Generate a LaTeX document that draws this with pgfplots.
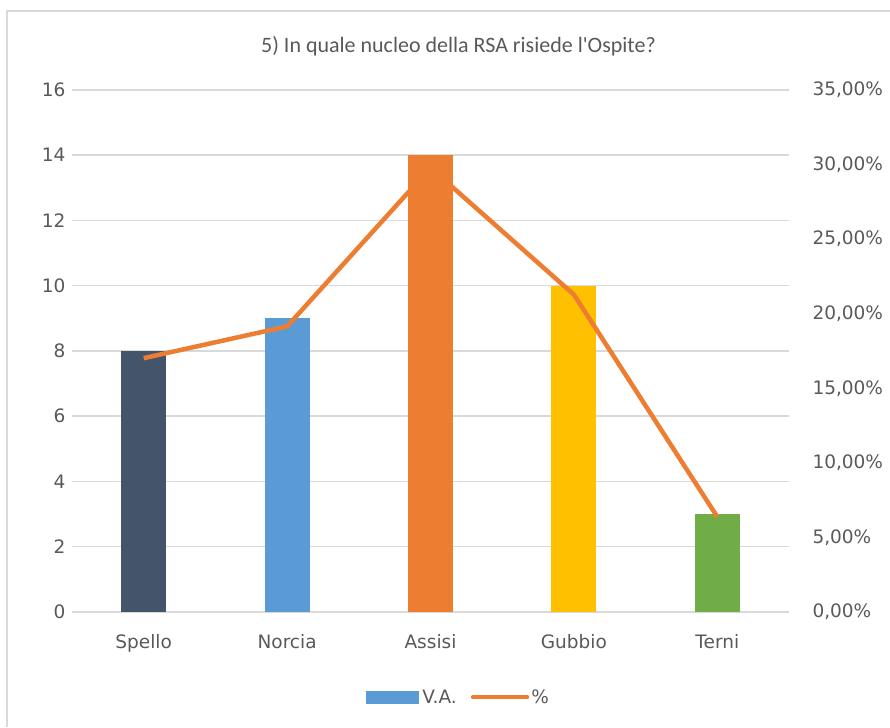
\documentclass[border=0pt]{standalone}
\usepackage{pgfplots}
\pgfplotsset{compat=1.18}
\usepackage{fontspec}
\setmainfont{DejaVu Sans}
\newfontfamily\titlefont{Carlito}
\definecolor{gridc}{HTML}{D9D9D9}
\definecolor{txt}{HTML}{595959}
\definecolor{cSpello}{HTML}{44546A}
\definecolor{cNorcia}{HTML}{5B9BD5}
\definecolor{cAssisi}{HTML}{ED7D31}
\definecolor{cGubbio}{HTML}{FFC000}
\definecolor{cTerni}{HTML}{70AD47}
\begin{document}
\begin{tikzpicture}[x=1pt,y=1pt]
\useasboundingbox (-72,-115) rectangle (818,612);
\draw[gridc, line width=2pt] (-65,-115) -- (-65,601) -- (818,601);
\pgfplotsset{
  common/.style={
    scale only axis, width=717pt, height=522pt,
    at={(0,0)}, anchor=south west,
    xmin=-0.5, xmax=4.5,
    axis line style={draw=none},
    major tick length=0pt,
    tick label style={font=\fontsize{18.5}{22}\selectfont, color=txt},
    /pgf/number format/assume math mode=true,
  }
}
\begin{axis}[common,
  ymin=0, ymax=16, ytick={0,2,...,16},
  xtick={0,1,2,3,4},
  xticklabels={Spello,Norcia,Assisi,Gubbio,Terni},
  xticklabel style={yshift=-19pt},
  yticklabel style={xshift=-3pt},
  ymajorgrids, grid style={gridc, line width=1.5pt},
  title={\titlefont\fontsize{22}{24}\selectfont 5) In quale nucleo della RSA risiede l'Ospite?},
  title style={color=txt, yshift=24pt, xshift=28pt},
]
\addplot[ybar, bar width=45pt, bar shift=0pt, fill=cSpello, draw=none] coordinates {(0,8)};
\addplot[ybar, bar width=45pt, bar shift=0pt, fill=cNorcia, draw=none] coordinates {(1,9)};
\addplot[ybar, bar width=45pt, bar shift=0pt, fill=cAssisi, draw=none] coordinates {(2,14)};
\addplot[ybar, bar width=45pt, bar shift=0pt, fill=cGubbio, draw=none] coordinates {(3,10)};
\addplot[ybar, bar width=45pt, bar shift=0pt, fill=cTerni, draw=none] coordinates {(4,3)};
\end{axis}
\begin{axis}[common,
  ymin=0, ymax=35, ytick={0,5,...,35},
  axis y line*=right, axis x line=none,
  yticklabel={\pgfmathprintnumber[fixed,zerofill,precision=2,use comma]{\tick}\%},
  yticklabel style={xshift=20pt},
  legend style={at={(0.539,-0.163)}, anchor=center, draw=none, fill=none,
    legend columns=2, font=\fontsize{18.5}{22}\selectfont, text=txt,
    /tikz/every even column/.append style={column sep=12pt}},
]
\addlegendimage{legend image code/.code={\fill[cNorcia] (-4pt,-6pt) rectangle (48pt,6pt); \path (50pt,0pt);}}
\addlegendentry{V.A.}
\addplot[cAssisi, line width=4.5pt, line join=round, mark=none,
  legend image code/.code={\draw[cAssisi,line width=4.5pt,line cap=round] (0pt,0pt) -- (54pt,0pt);}]
  coordinates {(0,17.02) (1,19.15) (2,29.79) (3,21.28) (4,6.38)};
\addlegendentry{\%}
\end{axis}
\end{tikzpicture}
\end{document}
